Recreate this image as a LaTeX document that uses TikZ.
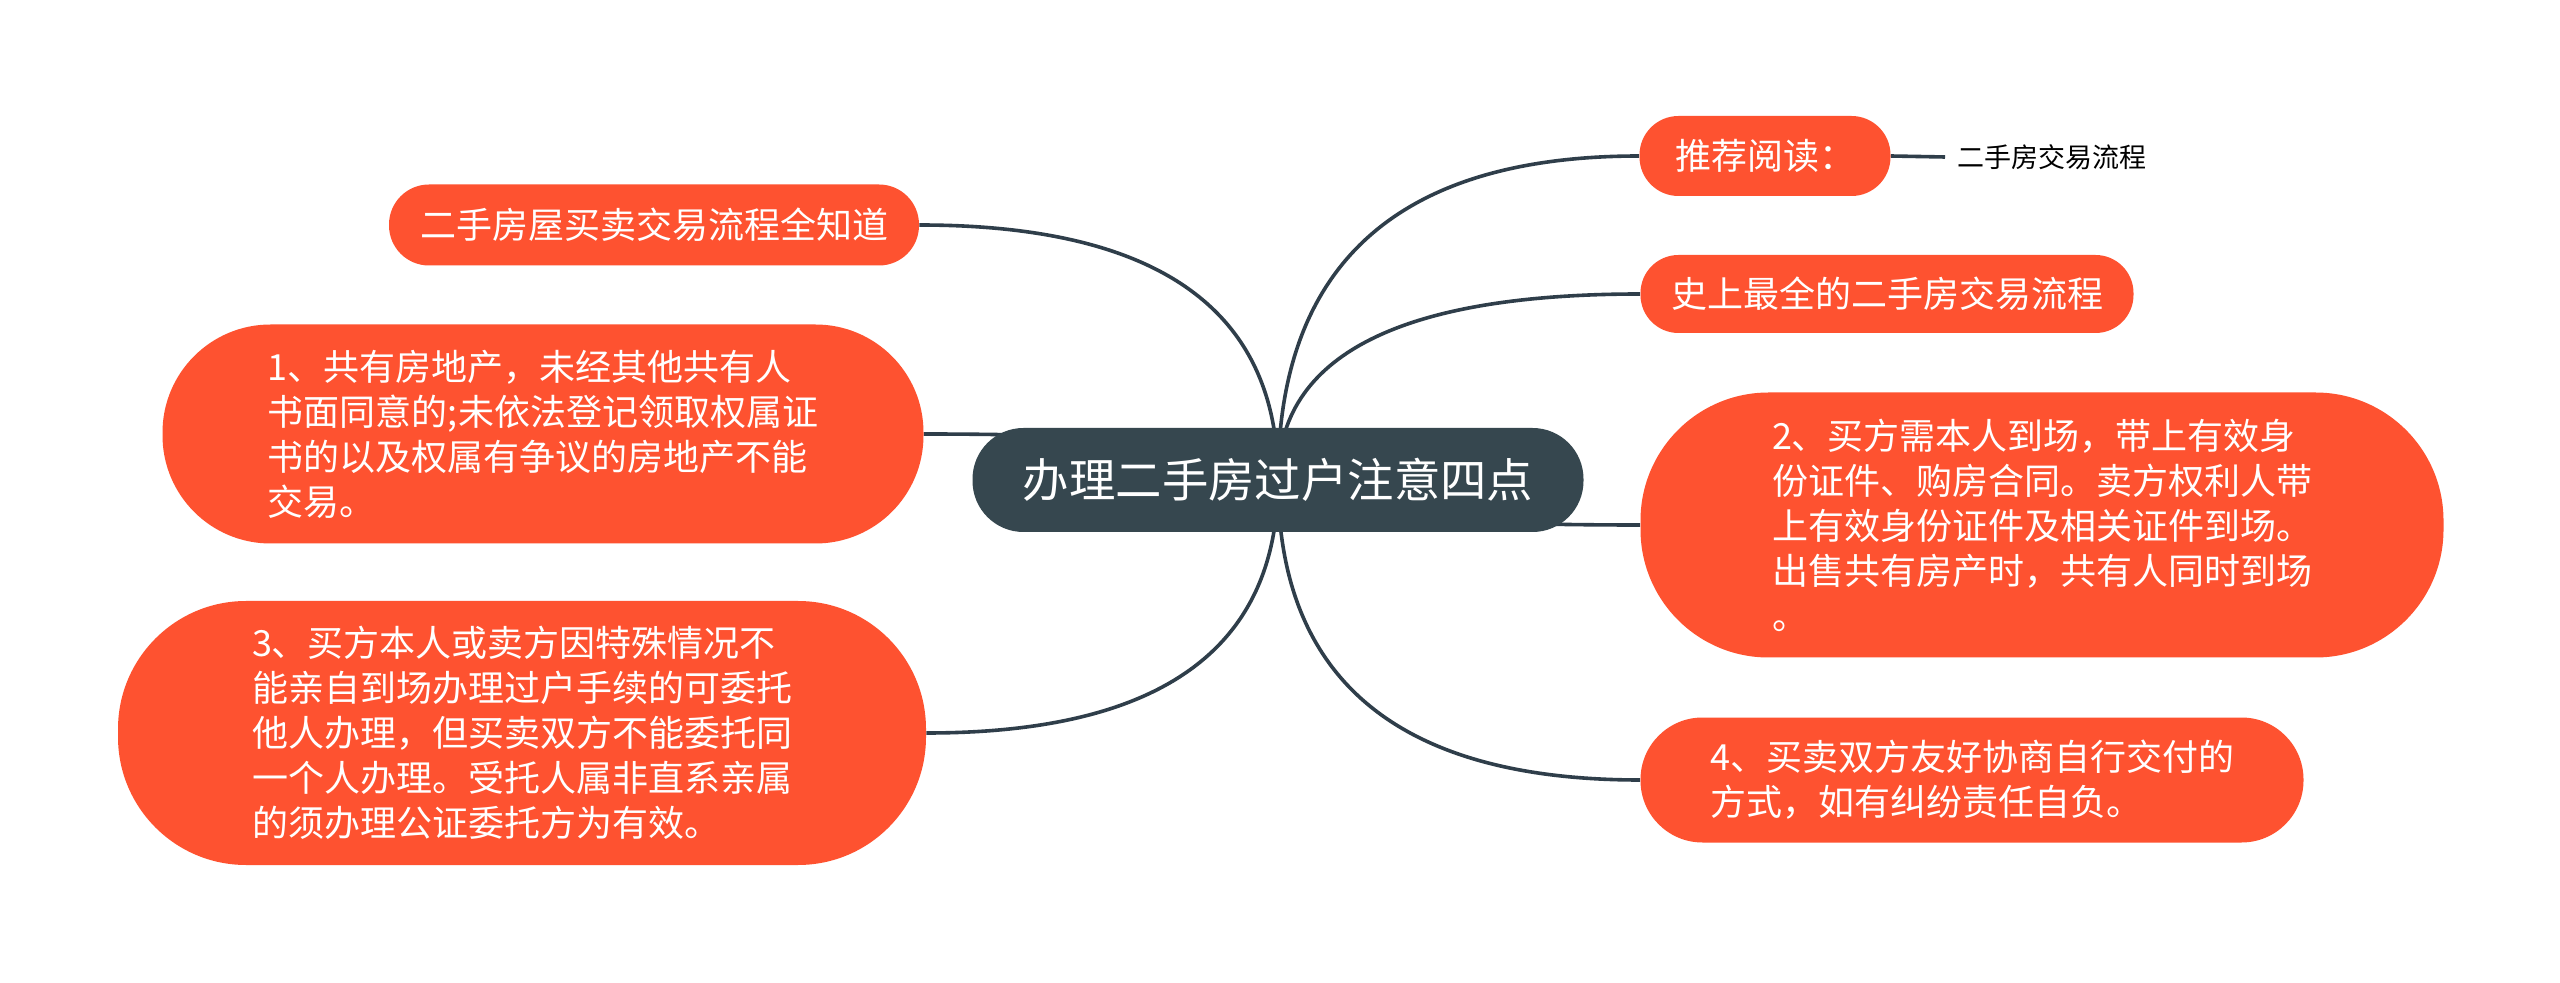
\documentclass[tikz,border=0pt]{standalone}
\usepackage{fontspec}
\newfontfamily\cjk{Noto Sans CJK SC}
\usetikzlibrary{backgrounds,calc}
\definecolor{mmorange}{HTML}{FE5230}
\definecolor{mmcenter}{HTML}{36474F}
\definecolor{mmline}{HTML}{2F3E4A}
\tikzset{
  bubble/.style={fill=mmorange, text=white, font=\cjk\fontsize{18}{22.5}\selectfont, align=left, inner sep=0pt},
  root/.style={fill=mmcenter, text=white, font=\cjk\fontsize{23.2}{28}\selectfont, inner sep=0pt,
    minimum width=305.5pt, minimum height=52pt, rounded corners=25.5pt},
  link/.style={draw=mmline, line width=1.8pt},
  plain/.style={text=black, font=\cjk\fontsize{13.5}{16}\selectfont, inner ysep=0pt, inner xsep=6pt}
}
\newcommand\mmlink[2]{\draw[link] (#1) .. controls ($(#1)!2/3!(#1 |- #2)$) and ($(#2)!2/3!(#1 |- #2)$) .. (#2);}
\begin{document}
\begin{tikzpicture}[x=0.5pt, y=-0.5pt]
\useasboundingbox (0,0) rectangle (2560,983);

\node[root] (c) at (1278,480) {办理二手房过户注意四点};

\node[bubble, minimum width=125.5pt, minimum height=40pt, rounded corners=19.5pt] (n1) at (1765,156) {推荐阅读：};
\node[plain, anchor=west] (t1) at (1945,157) {二手房交易流程};
\node[bubble, minimum width=246.5pt, minimum height=39pt, rounded corners=19pt] (n2) at (1887,294) {史上最全的二手房交易流程};
\node[bubble, minimum width=401.5pt, minimum height=132.5pt, rounded corners=64pt] (n3) at (2042,525)
  {2、买方需本人到场，带上有效身\\份证件、购房合同。卖方权利人带\\上有效身份证件及相关证件到场。\\出售共有房产时，共有人同时到场\\。};
\node[bubble, minimum width=331.5pt, minimum height=62.5pt, rounded corners=31pt] (n4) at (1972,780)
  {4、买卖双方友好协商自行交付的\\方式，如有纠纷责任自负。};

\node[bubble, minimum width=265pt, minimum height=40.5pt, rounded corners=20pt] (n5) at (654,225) {二手房屋买卖交易流程全知道};
\node[bubble, minimum width=380.5pt, minimum height=109.5pt, rounded corners=54pt] (n6) at (543,434)
  {1、共有房地产，未经其他共有人\\书面同意的;未依法登记领取权属证\\书的以及权属有争议的房地产不能\\交易。};
\node[bubble, minimum width=404pt, minimum height=132pt, rounded corners=64pt] (n7) at (522,733)
  {3、买方本人或卖方因特殊情况不\\能亲自到场办理过户手续的可委托\\他人办理，但买卖双方不能委托同\\一个人办理。受托人属非直系亲属\\的须办理公证委托方为有效。};

\begin{scope}[on background layer]
  \fill[white] (0,0) rectangle (2560,983);
  \mmlink{c.center}{n1.west}
  \mmlink{c.center}{n2.west}
  \mmlink{c.center}{n3.west}
  \mmlink{c.center}{n4.west}
  \mmlink{c.center}{n5.east}
  \mmlink{c.center}{n6.east}
  \mmlink{c.center}{n7.east}
  \draw[link] (n1.east) -- (t1.west);
\end{scope}
\end{tikzpicture}
\end{document}
